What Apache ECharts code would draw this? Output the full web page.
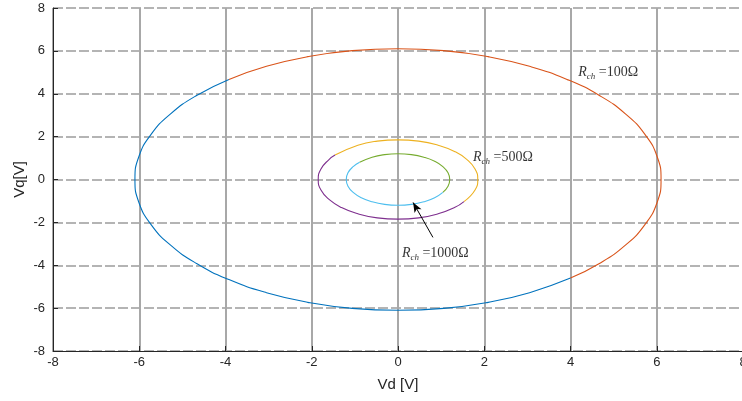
<!DOCTYPE html>
<html>
<head>
<meta charset="utf-8">
<script src="https://cdn.jsdelivr.net/npm/echarts@6/dist/echarts.min.js"></script>
<style>
  html, body { margin: 0; padding: 0; background: #fff; }
  #chart { width: 742px; height: 401px; }
</style>
</head>
<body>
<div id="chart"></div>
<script>
// points, [Vd, Vq]
// Rch = 100 ohm, two halves
var big1 = [[-3.92, 4.67], [-4.67, 3.92], [-5.28, 3.05], [-5.73, 2.09], [-6.01, 1.06],
  [-6.10, 0], [-6.01, -1.06], [-5.73, -2.09], [-5.28, -3.05], [-4.67, -3.92],
  [-3.92, -4.67], [-3.05, -5.28], [-2.09, -5.73], [-1.06, -6.01], [0, -6.10],
  [1.06, -6.01], [2.09, -5.73], [3.05, -5.28], [4.00, -4.60]]
var big2 = [[4.00, -4.60], [4.67, -3.92], [5.28, -3.05], [5.73, -2.09], [6.01, -1.06],
  [6.10, 0], [6.01, 1.06], [5.73, 2.09], [5.28, 3.05], [4.67, 3.92],
  [3.92, 4.67], [3.05, 5.28], [2.09, 5.73], [1.06, 6.01], [0, 6.10],
  [-1.06, 6.01], [-2.09, 5.73], [-3.05, 5.28], [-3.92, 4.67]]
// Rch = 500 ohm
var mid1 = [[1.53, -1.03], [1.79, -0.48], [1.85, 0], [1.79, 0.48], [1.60, 0.93],
  [1.31, 1.31], [0.93, 1.60], [0.48, 1.79], [0, 1.85], [-0.48, 1.79],
  [-0.93, 1.60], [-1.46, 1.14]]
var mid2 = [[-1.46, 1.14], [-1.60, 0.93], [-1.79, 0.48], [-1.85, 0], [-1.79, -0.48],
  [-1.60, -0.93], [-1.31, -1.31], [-0.93, -1.60], [-0.48, -1.79], [0, -1.85],
  [0.48, -1.79], [0.93, -1.60], [1.31, -1.31], [1.53, -1.03]]
// Rch = 1000 ohm
var small1 = [[1.04, -0.60], [1.16, -0.31], [1.20, 0], [1.16, 0.31], [1.04, 0.60],
  [0.85, 0.85], [0.60, 1.04], [0.31, 1.16], [0, 1.20], [-0.31, 1.16],
  [-0.60, 1.04], [-0.89, 0.80]]
var small2 = [[-0.89, 0.80], [-1.04, 0.60], [-1.16, 0.31], [-1.20, 0], [-1.16, -0.31],
  [-1.04, -0.60], [-0.85, -0.85], [-0.60, -1.04], [-0.31, -1.16], [0, -1.20],
  [0.31, -1.16], [0.60, -1.04], [0.85, -0.85], [1.04, -0.60]]

var labels = [
  { pos: [4.18, 5.0], val: '100Ω' },
  { pos: [1.74, 1.03], val: '500Ω' },
  { pos: [0.09, -3.45], val: '1000Ω' }
]
var arrowFrom = [0.81, -2.7]
var arrowTo = [0.35, -1.07]

var colors = ['#0072BD', '#D95319', '#EDB120', '#7E2F8E', '#77AC30', '#4DBEEE']
var curves = [big1, big2, mid1, mid2, small1, small2]

var chart = echarts.init(document.getElementById('chart'))

var series = curves.map(function(d, i) {
  return {
    type: 'line',
    data: d,
    smooth: true,
    showSymbol: false,
    silent: true,
    lineStyle: { color: colors[i], width: 1.1 },
    z: 3
  }
})

series.push({
  type: 'scatter',
  symbolSize: 0,
  silent: true,
  data: labels.map(function(l) { return { value: l.pos, name: l.val } }),
  label: {
    show: true,
    position: 'right',
    distance: 0,
    formatter: function(p) { return '{r|R}{s|ch}{t| =' + p.name + '}' },
    rich: {
      r: { fontFamily: 'Liberation Serif', fontStyle: 'italic', fontSize: 14, color: '#000' },
      s: { fontFamily: 'Liberation Serif', fontStyle: 'italic', fontSize: 9, color: '#000', padding: [9, 0, 0, 0] },
      t: { fontFamily: 'Liberation Serif', fontSize: 14, color: '#000' }
    }
  },
  markLine: {
    silent: true,
    symbol: ['none', 'arrow'],
    symbolSize: [6, 10],
    label: { show: false },
    lineStyle: { color: '#000', width: 1, type: 'solid' },
    data: [[{ coord: arrowFrom }, { coord: arrowTo }]]
  },
  z: 5
})

chart.setOption({
  animation: false,
  grid: { left: 53, right: -1, top: 8, bottom: 50, outerBoundsMode: 'none' },
  xAxis: [{
    type: 'value',
    min: -8,
    max: 8,
    interval: 2,
    name: 'Vd [V]',
    nameLocation: 'middle',
    nameGap: 26,
    nameTextStyle: { fontFamily: 'Liberation Sans', fontSize: 15, color: '#262626' },
    axisLine: { onZero: false, lineStyle: { color: '#262626', width: 1 } },
    axisTick: { inside: true, length: 5, lineStyle: { color: '#262626' } },
    axisLabel: { fontFamily: 'Liberation Sans', fontSize: 13, color: '#262626', margin: 5 },
    splitLine: { show: true, lineStyle: { color: '#a8a8a8', width: 2 } }
  }],
  yAxis: [{
    type: 'value',
    min: -8,
    max: 8,
    interval: 2,
    name: 'Vq[V]',
    nameLocation: 'middle',
    nameGap: 26,
    nameMoveOverlap: false,
    nameTextStyle: { fontFamily: 'Liberation Sans', fontSize: 15, color: '#262626' },
    axisLine: { onZero: false, lineStyle: { color: '#262626', width: 1 } },
    axisTick: { inside: true, length: 5, lineStyle: { color: '#262626' } },
    axisLabel: { fontFamily: 'Liberation Sans', fontSize: 13, color: '#262626', margin: 8 },
    splitLine: { show: true, lineStyle: { color: '#b4b4b4', width: 2, type: [10, 3] } }
  }],
  series: series
})
</script>
</body>
</html>
